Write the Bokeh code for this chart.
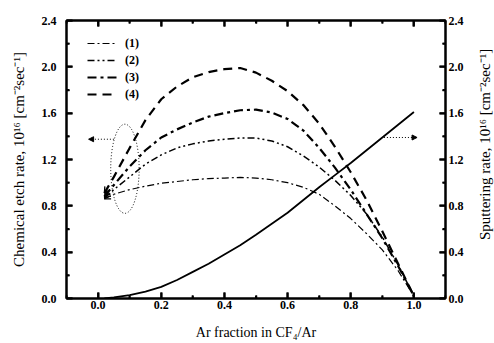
import math
from bokeh.plotting import figure
from bokeh.layouts import row
from bokeh.models import (LinearAxis, Range1d, FixedTicker, Legend, LegendItem,
                          Arrow, NormalHead, OpenHead)
from bokeh.core.properties import value
from bokeh.embed import file_html
from bokeh.resources import INLINE

# ---- data ----
x_etch = [0.02, 0.05, 0.10, 0.15, 0.20, 0.25, 0.30, 0.35, 0.40, 0.45, 0.50,
          0.55, 0.60, 0.65, 0.70, 0.75, 0.80, 0.85, 0.90, 0.95, 1.00]
etch_1 = [0.86, 0.90, 0.94, 0.97, 0.995, 1.01, 1.025, 1.035, 1.04, 1.045, 1.04,
          1.025, 1.00, 0.96, 0.90, 0.80, 0.69, 0.56, 0.42, 0.24, 0.02]
etch_2 = [0.87, 0.94, 1.05, 1.16, 1.24, 1.30, 1.335, 1.36, 1.375, 1.385, 1.385,
          1.36, 1.31, 1.23, 1.135, 1.02, 0.89, 0.73, 0.53, 0.29, 0.02]
etch_3 = [0.88, 0.98, 1.14, 1.28, 1.39, 1.46, 1.52, 1.57, 1.60, 1.625, 1.63,
          1.605, 1.55, 1.45, 1.30, 1.13, 0.94, 0.73, 0.52, 0.28, 0.02]
etch_4 = [0.91, 1.05, 1.30, 1.54, 1.72, 1.83, 1.91, 1.955, 1.98, 1.99, 1.95,
          1.88, 1.79, 1.67, 1.51, 1.31, 1.09, 0.85, 0.58, 0.30, 0.02]
x_sput = [0.02, 0.05, 0.10, 0.15, 0.20, 0.25, 0.30, 0.35, 0.40, 0.45, 0.50,
          0.55, 0.60, 0.65, 0.70, 0.75, 0.80, 0.85, 0.90, 0.95, 1.00]
sputter = [0.0, 0.01, 0.03, 0.06, 0.10, 0.16, 0.23, 0.30, 0.38, 0.46, 0.55,
           0.645, 0.74, 0.85, 0.96, 1.065, 1.17, 1.28, 1.39, 1.50, 1.61]
labels = ["(1)", "(2)", "(3)", "(4)"]
x_ticks = [0.0, 0.2, 0.4, 0.6, 0.8, 1.0]
x_minor = [-0.1, 0.1, 0.3, 0.5, 0.7, 0.9, 1.1]
y_ticks = [0.0, 0.4, 0.8, 1.2, 1.6, 2.0, 2.4]
y_minor = [0.2, 0.6, 1.0, 1.4, 1.8, 2.2]
x_title = "Ar fraction in CF\u2084/Ar"
y_title = "Chemical etch rate, 10\u00b9\u2076 [cm\u207b\u00b2sec\u207b\u00b9]"
y2_title = "Sputtering rate, 10\u00b9\u2076 [cm\u207b\u00b2sec\u207b\u00b9]"

# annotation: ellipse around the etch curves, arrows pointing to the axes
ell_x, ell_y, ell_w, ell_h = 0.085, 1.12, 0.09, 0.77
arrow_left = (0.05, -0.03, 1.375)     # x_start, x_end, y
arrow_right = (0.905, 1.01, 1.39)

SERIF = "Liberation Serif"
X0, X1, Y0, Y1 = -0.1, 1.1, 0.0, 2.4

p = figure(width=474, height=343, output_backend="svg", toolbar_location=None,
           x_range=Range1d(X0, X1), y_range=Range1d(Y0, Y1),
           min_border_left=66, min_border_right=29, min_border_top=20,
           min_border_bottom=45, background_fill_color="white",
           border_fill_color="white")
p.grid.visible = False
p.outline_line_color = "black"
p.outline_line_width = 2

styles = [
    dict(line_width=1.2, line_dash="7 3 2 3"),
    dict(line_width=1.5, line_dash="7 3 2 3 2 3"),
    dict(line_width=2.2, line_dash="9 4 3 4"),
    dict(line_width=2.2, line_dash="9 6"),
]
series = [etch_1, etch_2, etch_3, etch_4]
renderers = []
for ys, st in zip(series, styles):
    r = p.line(x_etch, ys, line_color="black", **st)
    renderers.append(r)
    # small arrow heads at the start of each etch curve
    p.add_layout(Arrow(end=OpenHead(size=6, line_color="black", line_width=1.3),
                       x_start=x_etch[1], y_start=ys[1], x_end=x_etch[0], y_end=ys[0],
                       line_alpha=0))

p.line(x_sput, sputter, line_color="black", line_width=1.8)

p.ellipse(x=[ell_x], y=[ell_y], width=[ell_w], height=[ell_h], fill_alpha=0,
          line_color="black", line_width=1, line_dash="1 2")

for xs, xe, ya in [arrow_left, arrow_right]:
    p.add_layout(Arrow(end=NormalHead(size=5, fill_color="black", line_color="black",
                                      line_width=1),
                       x_start=xs, y_start=ya, x_end=xe, y_end=ya,
                       line_color="black", line_width=1, line_dash="1 2"))

# inward tick marks on all four frame edges (half of each dash is clipped by the frame)
for xs_, size in [(x_ticks, 12), (x_minor, 6)]:
    for yy in (Y0, Y1):
        p.scatter(x=xs_, y=[yy] * len(xs_), marker="dash", angle=math.pi / 2,
                  size=size, line_color="black", line_width=2)
for ys_, size in [(y_ticks, 12), (y_minor, 6)]:
    for xx in (X0, X1):
        p.scatter(x=[xx] * len(ys_), y=ys_, marker="dash", size=size,
                  line_color="black", line_width=2)

legend = Legend(items=[LegendItem(label=l, renderers=[r]) for l, r in zip(labels, renderers)],
                location=(21, 196), padding=0, margin=0, spacing=1,
                glyph_width=30, glyph_height=16, label_height=16, label_standoff=8,
                background_fill_alpha=0, border_line_alpha=0,
                label_text_font=SERIF, label_text_font_style="bold",
                label_text_font_size="12px", label_text_color="black")
p.add_layout(legend)


def style_axis(ax, ticks, minor):
    ax.ticker = FixedTicker(ticks=ticks, minor_ticks=minor)
    ax.axis_line_width = 2
    ax.axis_line_color = "black"
    ax.major_tick_in = 6
    ax.major_tick_out = 0
    ax.minor_tick_in = 3
    ax.minor_tick_out = 0
    ax.major_tick_line_width = 2
    ax.minor_tick_line_width = 1.5
    ax.major_tick_line_color = "black"
    ax.minor_tick_line_color = "black"
    ax.major_label_text_font = SERIF
    ax.major_label_text_font_style = "bold"
    ax.major_label_text_font_size = "12px"
    ax.major_label_text_color = "black"
    ax.axis_label_text_font = SERIF
    ax.axis_label_text_font_style = "normal"
    ax.axis_label_text_font_size = "14px"
    ax.axis_label_text_color = "black"
    ax.major_label_overrides = {v: f"{v:.1f}" for v in ticks}


xax = p.xaxis[0]
yax = p.yaxis[0]
style_axis(xax, x_ticks, x_minor)
style_axis(yax, y_ticks, y_minor)
xax.axis_label = x_title
yax.axis_label = y_title
yax.axis_label_text_font_size = "15px"
xax.major_label_standoff = 2
yax.major_label_standoff = 10
xax.axis_label_standoff = 13
yax.axis_label_standoff = 12

top = LinearAxis()
style_axis(top, x_ticks, x_minor)
top.major_label_overrides = {v: "" for v in x_ticks}
top.major_label_standoff = 0
p.add_layout(top, "above")

right = LinearAxis()
style_axis(right, y_ticks, y_minor)
right.major_label_standoff = 3
p.add_layout(right, "right")

# narrow strip on the right carrying the right-hand title (reads bottom-to-top)
pr = figure(width=20, height=343, output_backend="svg", toolbar_location=None,
            x_range=Range1d(0, 1), y_range=Range1d(Y0, Y1),
            min_border_left=0, min_border_right=0, min_border_top=20,
            min_border_bottom=45, background_fill_color="white",
            border_fill_color="white", outline_line_color=None)
pr.axis.visible = False
pr.grid.visible = False
pr.text(x=[0.5], y=[1.33], text=[y2_title], angle=math.pi / 2,
        text_align="center", text_baseline="middle", text_font=value(SERIF),
        text_font_size="15px", text_color="black")

layout = row(p, pr, spacing=0)
open("out.html", "w").write(file_html(layout, INLINE))
